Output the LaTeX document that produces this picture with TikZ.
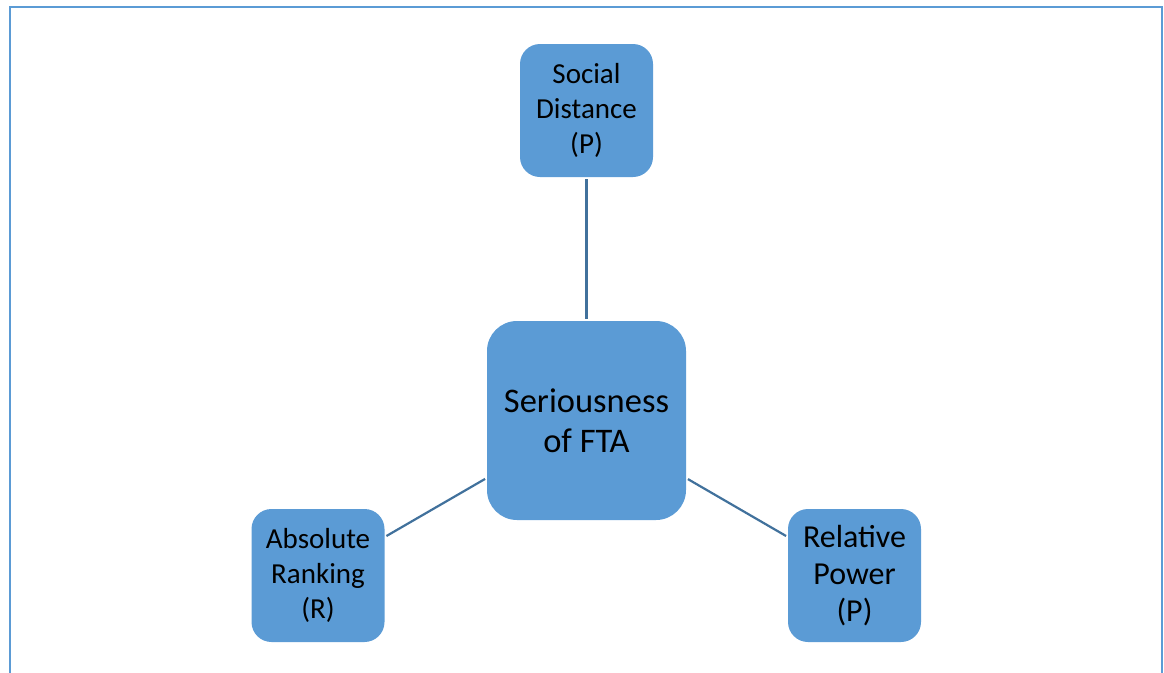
\documentclass[tikz,border=0pt]{standalone}
\usepackage{fontspec}
\setmainfont{Carlito}
\definecolor{boxblue}{HTML}{5B9BD5}
\definecolor{lineblue}{HTML}{41719C}
\definecolor{framblue}{HTML}{5B9BD5}
\begin{document}
\begin{tikzpicture}[x=1pt,y=-1pt,
  bigbox/.style={fill=boxblue,draw=none,rounded corners=30pt,minimum width=199pt,minimum height=199pt,align=center,inner sep=0pt,
    font=\fontsize{34.5}{40}\selectfont},
  smallbox/.style={fill=boxblue,draw=none,rounded corners=20pt,minimum width=133pt,minimum height=133pt,align=center,inner sep=0pt,
    font=\fontsize{29}{35}\selectfont},
  conn/.style={draw=lineblue,line width=2.2pt,shorten <=2pt,shorten >=2pt}]
\useasboundingbox (0,0) rectangle (1164,672);
\draw[framblue,line width=2.6pt] (10,680) -- (10,7) -- (1162,7) -- (1162,680);
\node[bigbox] (c) at (586.5,420.5) {Seriousness\\of FTA};
\node[smallbox] (t) at (586.5,110.5) {Social\\Distance\\(P)};
\node[smallbox] (l) at (318,575.5) {Absolute\\Ranking\\(R)};
\node[smallbox,font=\fontsize{32}{37}\selectfont] (r) at (854.5,575.5) {Relative\\Power\\(P)};
\draw[conn] (c) -- (t);
\draw[conn] (c) -- (l);
\draw[conn] (c) -- (r);
\end{tikzpicture}
\end{document}
